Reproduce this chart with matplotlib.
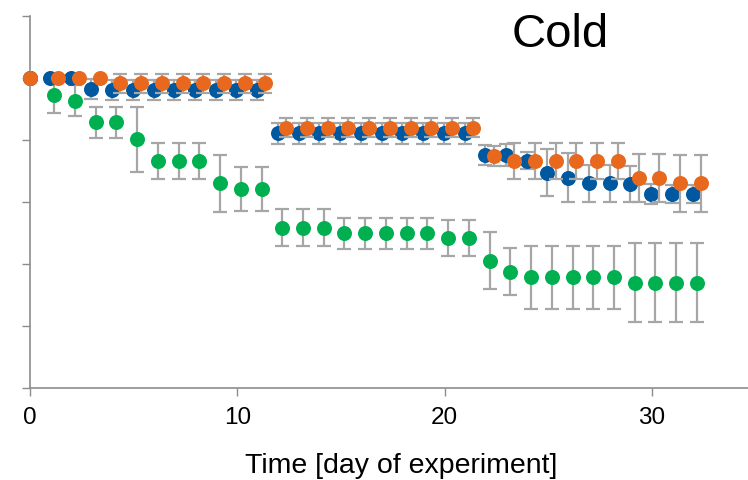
import matplotlib
matplotlib.use("Agg")
import matplotlib.pyplot as plt

plt.rcParams['font.family'] = ['Liberation Sans', 'DejaVu Sans']

# ---- data (y units: % of initial) ----
days = list(range(33))

blue = [100, 100, 100, 96.4, 96.1, 96.1, 96.1, 96.1, 96.1, 96.1, 96.1, 96.1,
        82.2, 82.2, 82.2, 82.2, 82.2, 82.2, 82.2, 82.2, 82.2, 82.2,
        75.2, 75.2, 73.3, 69.5, 67.8, 66.0, 66.0, 65.8, 62.6, 62.6, 62.6]
blue_err = [0, 0, 0, 3.2, 3.2, 3.2, 3.2, 3.2, 3.2, 3.2, 3.2, 3.2,
            3.4, 3.4, 3.4, 3.4, 3.4, 3.4, 3.4, 3.4, 3.4, 3.4,
            3.3, 3.5, 2.7, 7.7, 7.9, 5.9, 5.9, 5.7, 3.1, 3.0, 3.0]

orange = [100, 100, 100, 100, 98.3, 98.3, 98.3, 98.3, 98.3, 98.3, 98.3, 98.3,
          84.0, 84.0, 84.0, 84.0, 84.0, 84.0, 84.0, 84.0, 84.0, 84.0,
          74.8, 73.2, 73.2, 73.2, 73.2, 73.2, 73.2, 67.8, 67.8, 66.0, 66.0]
orange_err = [0, 0, 0, 0, 3.0, 3.0, 3.0, 3.0, 3.0, 3.0, 3.0, 3.0,
              3.0, 3.0, 3.0, 3.0, 3.0, 3.0, 3.0, 3.0, 3.0, 3.0,
              3.3, 5.8, 5.8, 5.8, 5.8, 5.8, 5.8, 7.7, 7.7, 9.1, 9.1]

green = [100, 94.5, 92.7, 85.8, 85.8, 80.3, 73.2, 73.2, 73.2, 66.0, 64.2, 64.2,
         51.7, 51.7, 51.7, 49.9, 49.9, 49.9, 49.9, 49.9, 48.3, 48.3,
         41.1, 37.5, 35.7, 35.7, 35.7, 35.7, 35.7, 34.0, 34.0, 34.0, 34.0]
green_err = [0, 5.7, 4.9, 5.0, 5.0, 10.5, 5.8, 5.8, 5.8, 9.3, 7.1, 7.1,
             5.9, 5.9, 5.9, 4.9, 4.9, 4.9, 4.9, 4.9, 5.8, 5.8,
             9.1, 7.6, 10.2, 10.2, 10.2, 10.2, 10.2, 12.8, 12.8, 12.8, 12.8]

x_ticks = [0, 10, 20, 30]
title = "Cold"
xlabel = "Time [day of experiment]"

# small horizontal dodge between the series (day 0 shared)
def dodge(d, off):
    return [0 if v == 0 else v + off for v in d]

series = [
    (dodge(days, 0.17), green, green_err, '#00B050'),
    (dodge(days, -0.04), blue, blue_err, '#0058A0'),
    (dodge(days, 0.36), orange, orange_err, '#E8691E'),
]

fig = plt.figure(figsize=(7.48, 4.80), dpi=100)
ax = fig.add_axes([30 / 748, 1 - 388 / 480, 1 - 30 / 748, (388 - 16) / 480])

z = 3
for xs, ys, es, col in series:
    eb = ax.errorbar(xs, ys, yerr=es, fmt='none', ecolor='#A6A6A6',
                     elinewidth=1.6, capsize=4.8, capthick=1.6, zorder=z)
    for a in eb.get_children():
        a.set_clip_on(False)
    ax.plot(xs, ys, 'o', color=col, markersize=10.8, markeredgewidth=0,
            zorder=z + 0.5, clip_on=False)
    z += 1

ax.set_xlim(0, (748 - 30) / 20.73)
ax.set_ylim(0, 120)
ax.set_xticks(x_ticks)
ax.set_xticklabels([str(t) for t in x_ticks])
ax.set_yticks([0, 20, 40, 60, 80, 100, 120])
ax.set_yticklabels([])

for s in ['top', 'right']:
    ax.spines[s].set_visible(False)
for s in ['left', 'bottom']:
    ax.spines[s].set_color('#8C8C8C')
    ax.spines[s].set_linewidth(1.2)

ax.tick_params(axis='both', direction='out', length=6, width=1.0,
               color='#8C8C8C')
ax.tick_params(axis='x', labelsize=17.5, pad=7.5, labelcolor='black')

fig.text(560 / 748, 1 - 46.7 / 480, title, ha='center', va='baseline',
         fontsize=34, color='black')
fig.text(401 / 748, 1 - 473 / 480, xlabel, ha='center', va='baseline',
         fontsize=20.5, color='black')

fig.savefig('out.png', dpi=100)
